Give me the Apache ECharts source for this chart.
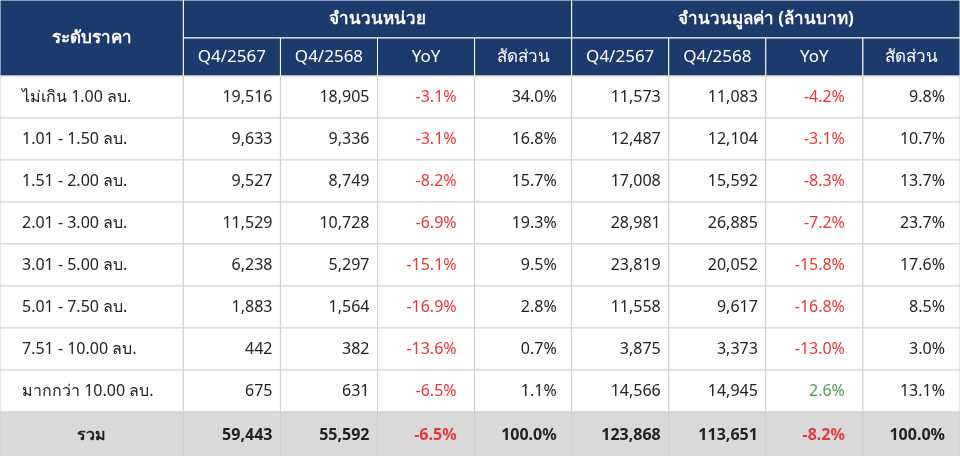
<!DOCTYPE html>
<html><head><meta charset="utf-8">
<script src="https://cdn.jsdelivr.net/npm/echarts@6/dist/echarts.min.js"></script>
<style>html,body{margin:0;padding:0;background:#fff}#c{width:960px;height:456px}</style>
</head><body><div id="c"></div>
<script>
const categories = ['ไม่เกิน 1.00 ลบ.','1.01 - 1.50 ลบ.','1.51 - 2.00 ลบ.','2.01 - 3.00 ลบ.','3.01 - 5.00 ลบ.','5.01 - 7.50 ลบ.','7.51 - 10.00 ลบ.','มากกว่า 10.00 ลบ.'];
const units2567 = [19516,9633,9527,11529,6238,1883,442,675];
const units2568 = [18905,9336,8749,10728,5297,1564,382,631];
const unitsYoY = [-3.1,-3.1,-8.2,-6.9,-15.1,-16.9,-13.6,-6.5];
const unitsShare = [34.0,16.8,15.7,19.3,9.5,2.8,0.7,1.1];
const value2567 = [11573,12487,17008,28981,23819,11558,3875,14566];
const value2568 = [11083,12104,15592,26885,20052,9617,3373,14945];
const valueYoY = [-4.2,-3.1,-8.3,-7.2,-15.8,-16.8,-13.0,2.6];
const valueShare = [9.8,10.7,13.7,23.7,17.6,8.5,3.0,13.1];
const totalLabel = 'รวม';
const totalRow = [59443,55592,-6.5,100.0,123868,113651,-8.2,100.0];
const groupHeaders = ['ระดับราคา','จำนวนหน่วย','จำนวนมูลค่า (ล้านบาท)'];
const subHeaders = ['Q4/2567','Q4/2568','YoY','สัดส่วน','Q4/2567','Q4/2568','YoY','สัดส่วน'];

// column boundaries on the x value axis (first column is wider)
const FC = 1.91, CW = (10-FC)/8;
const bx = i => i===0 ? 0 : FC + (i-1)*CW;
const NAVY='#1d3a6c', GRID='#cfcfcf', RED='#e2383a', GREEN='#4f9a5a', TXT='#222';
const fmtN = v => v.toLocaleString('en-US');
const fmtP = v => v.toFixed(1)+'%';
const cells = [];
cells.push([bx(0),bx(1),0,76,groupHeaders[0],NAVY,'#fff','center',1,17,0]);
cells.push([bx(1),bx(5),0,38,groupHeaders[1],NAVY,'#fff','center',1,17,0]);
cells.push([bx(5),bx(9),0,38,groupHeaders[2],NAVY,'#fff','center',1,17,0]);
subHeaders.forEach((h,i)=>cells.push([bx(1+i),bx(2+i),38,76,h,NAVY,'#fff','center',0,17,0]));
const pads=[8,8,18,15,8,8,18,15];
categories.forEach((c,r)=>{
  const y0=76+r*42,y1=y0+42;
  cells.push([bx(0),bx(1),y0,y1,c,'#fff',TXT,'left',0,16,22]);
  const vals=[fmtN(units2567[r]),fmtN(units2568[r]),fmtP(unitsYoY[r]),fmtP(unitsShare[r]),fmtN(value2567[r]),fmtN(value2568[r]),fmtP(valueYoY[r]),fmtP(valueShare[r])];
  const raw=[0,0,unitsYoY[r],0,0,0,valueYoY[r],0];
  vals.forEach((v,i)=>{
    let col=TXT; if(i===2||i===6) col=raw[i]<0?RED:GREEN;
    cells.push([bx(1+i),bx(2+i),y0,y1,v,'#fff',col,'right',0,16,pads[i]]);
  });
});
{
  const y0=76+8*42,y1=458;
  cells.push([bx(0),bx(1),y0,y1,totalLabel,'#d9d9d9',TXT,'center',1,16,0]);
  totalRow.forEach((v,i)=>{
    const t=(i===2||i===3||i===6||i===7)?fmtP(v):fmtN(v);
    cells.push([bx(1+i),bx(2+i),y0,y1,t,'#d9d9d9',(i===2||i===6)?RED:TXT,'right',1,16,pads[i]]);
  });
}
const chart=echarts.init(document.getElementById('c'));
chart.setOption({
  animation:false,
  grid:{left:0,right:0,top:0,bottom:0},
  xAxis:{type:'value',min:0,max:10,show:false},
  yAxis:{type:'value',min:0,max:456,inverse:true,show:false},
  series:[{
    type:'custom',
    data:cells,
    renderItem:(params,api)=>{
      const d=cells[params.dataIndex];
      const p0=api.coord([d[0],d[2]]),p1=api.coord([d[1],d[3]]);
      const x=p0[0],y=p0[1],w=p1[0]-p0[0],h=p1[1]-p0[1];
      const hdr=d[5]===NAVY;
      let tx=x+w/2; if(d[7]==='left') tx=x+d[10]; if(d[7]==='right') tx=x+w-d[10];
      return {type:'group',children:[
        {type:'rect',shape:{x:x,y:y,width:w,height:h},style:{fill:d[5],stroke:hdr?'#ffffff':GRID,lineWidth:1}},
        {type:'text',style:{x:tx,y:y+h/2,text:d[4],fill:d[6],align:d[7],verticalAlign:'middle',
          font:(d[8]?'bold ':'')+d[9]+'px Tahoma, "Noto Sans", "DejaVu Sans", sans-serif'}}
      ]};
    }
  }]
});
</script></body></html>
